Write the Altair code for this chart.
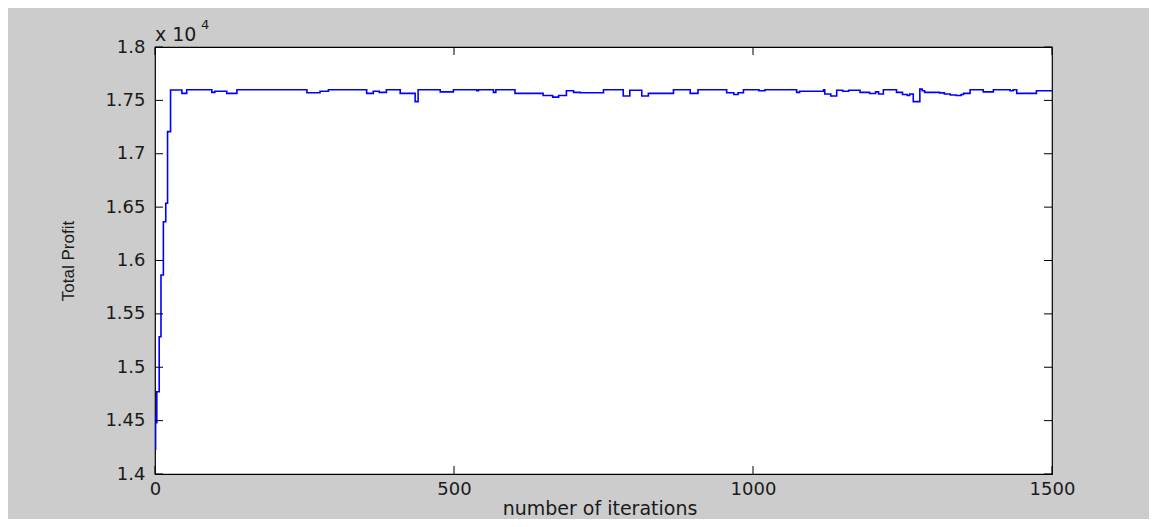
import altair as alt
import pandas as pd

# Change points of the total-profit curve (iteration, profit)
ITER = [0, 1, 2, 3, 7, 10, 14, 18, 21, 26,
        45, 53, 95, 100, 120, 137, 254, 276, 290,
        354, 365, 375, 387, 410, 435, 440, 477, 499, 538, 541, 566, 570,
        602, 649, 665, 675, 688, 700, 711, 750, 783, 794, 814, 825, 867,
        895, 908, 956, 968, 975, 984, 1010, 1020, 1073, 1078, 1118, 1120, 1130,
        1140, 1150, 1160, 1179, 1195, 1205, 1210, 1218, 1240, 1250, 1258, 1262,
        1268, 1279, 1283, 1287, 1312, 1320, 1330, 1340, 1348, 1352, 1363, 1385,
        1402, 1430, 1435, 1441, 1474, 1500]
PROFIT = [14230, 14550, 14480, 14771, 15286, 15864, 16363, 16536, 17207, 17597,
          17566, 17600, 17575, 17585, 17566, 17600, 17572, 17585, 17600,
          17566, 17585, 17575, 17600, 17566, 17488, 17600, 17580, 17600, 17590, 17600, 17575, 17600,
          17566, 17545, 17530, 17545, 17590, 17575, 17572, 17600, 17541, 17595, 17541, 17566, 17600,
          17566, 17600, 17572, 17555, 17572, 17600, 17590, 17600, 17575, 17585, 17600, 17560, 17541,
          17595, 17585, 17595, 17575, 17565, 17580, 17560, 17600, 17575, 17555, 17545, 17560,
          17488, 17605, 17590, 17575, 17570, 17560, 17550, 17545, 17555, 17566, 17600, 17580,
          17600, 17590, 17600, 17566, 17590, 17590]

X_TICKS = [0, 500, 1000, 1500]
Y_TICKS = [14000, 14500, 15000, 15500, 16000, 16500, 17000, 17500, 18000]
EXP_BASE = ["x 10"]
EXP_POW = ["4"]

W, H = 897, 427
TICK = 8

df = pd.DataFrame({"iter": ITER, "profit": PROFIT})
xs = alt.Scale(domain=[0, 1500], nice=False, zero=False)
ys = alt.Scale(domain=[14000, 18000], nice=False, zero=False)

x_axis = alt.Axis(
    values=X_TICKS, format="d", labelFlush=False,
    title="number of iterations", ticks=False, domain=False, grid=False,
    labelFont="DejaVu Sans", labelFontSize=18, labelColor="#1a1a1a", labelPadding=6,
    titleFont="DejaVu Sans", titleFontSize=19, titleFontWeight="normal", titleColor="#1a1a1a",
    titleX=W / 2 - 4, titleY=40, titleAlign="center", titleBaseline="alphabetic")
y_axis = alt.Axis(
    values=Y_TICKS, labelExpr="format(datum.value / 10000, '')", labelFlush=False,
    title="Total Profit", ticks=False, domain=False, grid=False,
    labelFont="DejaVu Sans", labelFontSize=18, labelColor="#1a1a1a", labelPadding=10,
    titleFont="Liberation Sans", titleFontSize=17, titleFontWeight="normal", titleColor="#1a1a1a",
    titleX=-82, titleY=H / 2, titleAngle=270, titleAlign="center", titleBaseline="alphabetic")

line = alt.Chart(df).mark_line(
    color="#0000ff", strokeWidth=1.6, interpolate="step-after", clip=True
).encode(
    x=alt.X("iter:Q", scale=xs, axis=x_axis),
    y=alt.Y("profit:Q", scale=ys, axis=y_axis),
)

xt = pd.DataFrame({"iter": X_TICKS})
yt = pd.DataFrame({"profit": Y_TICKS})

xb = alt.Chart(xt).mark_rule(color="black", strokeWidth=1).encode(
    x=alt.X("iter:Q", scale=xs, axis=x_axis), y=alt.value(H), y2=alt.value(H - TICK))
xtop = alt.Chart(xt).mark_rule(color="black", strokeWidth=1).encode(
    x=alt.X("iter:Q", scale=xs, axis=x_axis), y=alt.value(0), y2=alt.value(TICK))
yl = alt.Chart(yt).mark_rule(color="black", strokeWidth=1).encode(
    y=alt.Y("profit:Q", scale=ys, axis=y_axis), x=alt.value(0), x2=alt.value(TICK))
yr = alt.Chart(yt).mark_rule(color="black", strokeWidth=1).encode(
    y=alt.Y("profit:Q", scale=ys, axis=y_axis), x=alt.value(W - TICK), x2=alt.value(W))

exp_base = alt.Chart(pd.DataFrame({"t": EXP_BASE})).mark_text(
    font="DejaVu Sans", fontSize=19, color="#1a1a1a", align="left", baseline="alphabetic"
).encode(x=alt.value(0), y=alt.value(-6), text="t:N")
exp_pow = alt.Chart(pd.DataFrame({"t": EXP_POW})).mark_text(
    font="DejaVu Sans", fontSize=13, color="#1a1a1a", align="left", baseline="alphabetic"
).encode(x=alt.value(46), y=alt.value(-18), text="t:N")

chart = alt.layer(line, xb, xtop, yl, yr, exp_base, exp_pow).properties(
    width=W, height=H,
    autosize=alt.AutoSizeParams(type="none"),
    padding={"left": 147, "top": 39, "right": 97, "bottom": 45},
    background="#cccccc",
).configure_view(fill="white", stroke="black", strokeWidth=1.2)

chart.save("out.html", embed_options={"renderer": "svg", "actions": False})
